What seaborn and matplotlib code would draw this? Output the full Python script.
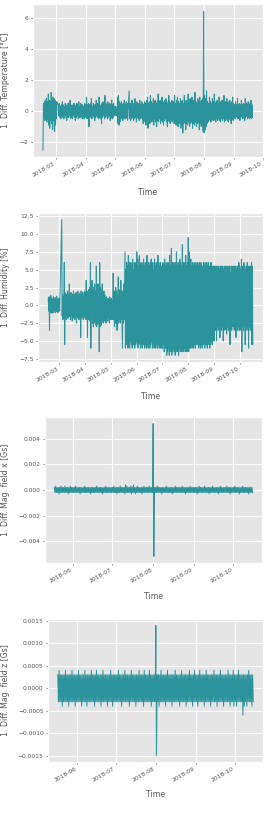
import numpy as np
import pandas as pd
import matplotlib
matplotlib.use('Agg')
import matplotlib.pyplot as plt
import matplotlib.dates as mdates
import seaborn as sns

nan = np.nan

# 1. difference of temperature [°C], one value every 12 h from 2018-02-16
temp_start = '2018-02-16'
temp_diff = [
    # Feb 16-28
    -2.5, 0.5, -0.4, 0.6, -0.6, 0.7, -0.5, 0.8, -0.7, 0.6, -0.5, 1.1, -0.9,
    0.7, -1.1, 0.6, -0.6, 1.2, -0.8, 0.7, -1.2, 0.9, -0.6, 0.8, -1.3, 0.7,
    # Mar
    -0.9, 0.6, -0.5, 0.6, nan, nan,
    0.4, -0.3, 0.5, -0.4, 0.3, -0.5, 0.4, -0.3, 0.6, -0.4, 0.4, -0.5, 0.3, -0.4,
    0.5, -0.3, 0.4, -0.6, 0.3, -0.4, 0.5, -0.4, 0.4, -0.3, 0.7, -0.5, 0.4, -0.4,
    0.3, -0.5, 0.4, -0.3, 0.5, -0.4, 0.4, -0.6, 0.3, -0.4, 0.5, -0.3, 0.4, -0.5,
    0.6, -0.4, 0.3, -0.4, 0.5, -0.3, 0.4, -0.5, 0.4, -0.4, 0.3, -0.5, 0.5, -0.4,
    # Apr
    0.4, -0.3, 0.9, -0.5, 0.4, -0.4, 0.5, -1.0, 0.4, -0.3, 0.5, -0.4, 0.8, -0.5, 0.3,
    -0.4, 0.5, -0.3, 0.4, -0.6, 0.4, -0.4, 0.7, -0.3, 0.5, -0.4, 0.4, -0.5, 0.9, -0.4,
    0.3, -0.5, 0.4, -0.8, 0.5, -0.4, 0.6, -0.3, 0.4, -0.5, 1.0, -0.4, 0.5, -0.3, 0.4,
    -0.5, 0.6, -0.4, 0.4, -0.3, 0.5, -0.6, 0.4, -0.4, 0.7, -0.5, 0.4, -0.4, 0.5, -0.3,
    # May
    0.3, -0.2, 0.3, -0.3, 0.2, -0.3, 0.9, -0.8, 1.0, -0.9, 0.6, -0.7,
    0.5, -0.4, 0.6, -0.5, 0.4, -0.6, 0.5, -0.4, 0.7, -0.5, 0.4, -0.5, 0.6, -0.4, 0.5, -0.6,
    nan, nan, 1.3, -0.5,
    0.5, -0.6, 0.4, -0.5, 0.7, -0.4, 0.5, -0.6, 0.4, -0.5, 0.8, -0.4, 0.5, -0.7, 0.6,
    -0.4, 0.5, -0.5, 0.4, -0.6, 0.7, -0.5, 0.4, -0.4, 0.6, -0.5, 0.5, -0.8, 0.4, -0.5,
    # Jun
    0.6, -0.7, 0.5, -0.9, 0.7, -0.6, 0.9, -1.1, 0.5, -0.6, 0.6, -0.8, 1.0, -0.5, 0.6,
    -0.7, 0.5, -0.6, 0.8, -0.9, 0.6, -0.5, 0.7, -0.7, 0.5, -1.0, 0.6, -0.6, 1.1, -0.7,
    0.6, -0.5, 0.7, -0.8, 0.5, -0.6, 0.9, -0.7, 0.6, -0.9, 0.5, -0.6, 0.7, -0.5, 0.8,
    -0.7, 0.6, -1.0, 0.5, -0.6, 1.0, -0.7, 0.6, -0.8, 0.5, -0.6, 0.7, -0.7, 0.6, -0.5,
    # Jul
    0.6, -0.8, 1.0, -0.6, 0.5, -0.9, 0.7, -0.7, 0.9, -1.0, 0.6, -0.8, 0.5, -0.7, 0.8,
    -1.1, 0.6, -0.9, 0.7, -1.4, 0.5, -0.8, 1.0, -0.7, 0.6, -1.2, 0.7, -0.8, 0.5, -0.9,
    1.1, -0.7, 0.6, -1.0, 0.8, -0.8, 0.5, -0.7, 0.9, -1.1, 0.6, -0.8, 0.7, -0.9, 1.2,
    -0.7, 0.6, -1.0, 0.5, -0.8, 0.8, -0.7, 0.6, -1.2, 0.9, -0.8, 0.6, -1.0, 0.7, -0.9,
    0.8, -1.3,
    # Aug
    6.4, -1.4, 1.0, -1.2, 0.8, -1.0, 1.3, -0.8, 0.6, -0.7, 0.5, -0.6, 0.9, -0.5, 0.6,
    -0.7, 0.5, -0.6, 0.8, -0.5, 0.6, -0.6, 1.1, -0.5, 0.5, -0.7, 0.6, -0.5, 0.7, -0.6,
    0.5, -0.5, 0.9, -0.6, 0.6, -0.7, 0.5, -0.5, 0.7, -0.6, 0.6, -0.5, 1.0, -0.7, 0.5,
    -0.6, 0.6, -0.5, 0.8, -0.6, 0.5, -0.7, 0.6, -0.5, 0.7, -0.6, 0.5, -0.8, 0.6, -0.5,
    0.9, -0.6,
    # Sep 1-20
    0.5, -0.4, 0.4, -0.5, 0.6, -0.4, 0.4, -0.3, 0.8, -0.5, 0.4, -0.4, 0.5, -0.6, 0.4,
    -0.4, 0.7, -0.3, 0.4, -0.5, 0.5, -0.4, 0.4, -0.6, 0.8, -0.4, 0.5, -0.3, 0.4, -0.5,
    0.6, -0.4, 0.4, -0.5, 0.5, -0.4, 0.7, -0.5, 0.4, -0.4,
]

# 1. difference of humidity [%], one value every 12 h from 2018-02-16
hum_start = '2018-02-16'
hum_diff = [
    # Feb 16-28
    1.0, -0.8, 1.2, -3.5, 0.9, -1.0, 1.4, -0.8, 1.0, -1.1, 0.8, -0.9, 1.2,
    -1.0, 0.9, -0.7, 1.1, -1.0, 1.0, -0.8, 1.3, -0.9, 0.8, -1.0, 1.0, -0.7,
    # Mar
    1.0, -0.8, nan, nan, nan, nan, 12.0, -1.5,
    1.5, -2.0, 1.2, -1.6, 6.0, -5.5, 1.8, -1.5, 1.3, -2.0, 1.6, -1.4, 2.0, -1.8, 1.5,
    -1.6, 3.0, -1.5, 1.2, -2.0, 1.8, -1.4, 1.5, -2.2, 1.6, -1.5, 2.0, -1.8, 1.4, -2.0,
    1.6, -1.5, 1.8, -2.5, 1.5, -1.6, 2.0, -1.8, 1.4, -2.0, 1.7, -1.5, 1.5, -4.5, 2.0,
    -1.8, 1.6, -1.5, 1.8, -2.0, 1.5, -1.7, 2.0, -1.6,
    # Apr
    1.8, -2.0, 3.5, -1.8, 2.0, -4.5, 1.6, -2.0, 2.2, -1.8, 2.5, -2.2, 6.0, -6.0, 2.0,
    -1.8, 3.5, -2.5, 2.2, -3.0, 2.5, -2.2, 3.0, -2.5, 2.0, -2.8, 5.5, -3.0, 2.5, -2.6,
    3.0, -2.5, 2.6, -6.5, 6.0, -3.0, 2.5, -2.8, 2.2, -2.5, 3.0, -2.2, 1.5, -2.5, 2.0,
    -2.2, 1.5, -2.0, 1.0, -2.5, 1.2, -2.0, 0.8, -2.2, 1.0, -1.8, 0.8, -2.5, 1.2, -2.0,
    # May
    0.8, -2.0, 1.0, -1.8, 0.6, -2.0,
    4.5, -2.0, 2.0, -3.0, 1.8, -2.5, 2.5, -2.0, 2.0, -3.5, 1.5, -2.0, 4.0, -2.5, 1.8,
    -2.0, 2.2, -2.5, 3.5, -2.0, 2.0, -2.5,
    -6.0, 2.0, -2.5, 3.0, -2.0, 2.5,
    7.5, -6.0, 5.0, -5.5, 6.0, -5.5, 5.5, -6.0, 7.0, -5.5, 6.0, -6.0, 5.5, -5.0,
    6.0, -5.5, 5.5, -6.0, 6.5, -5.5, 5.0, -5.5, 6.0, -6.0, 5.5, -5.5, 6.0, -5.0,
    # Jun
    7.5, -5.5, 6.5, -6.0, 5.5, -5.5, 7.0, -5.0, 6.0, -6.0, 5.5, -5.5, 6.0, -6.0, 5.5,
    -5.5, 6.5, -5.5, 5.5, -6.0, 6.0, -5.5, 5.5, -6.0, 7.0, -5.5, 5.5, -6.0, 6.0, -5.5,
    5.5, -6.0, 6.0, -5.5, 6.5, -5.0, 5.5, -6.0, 6.0, -5.5, 5.0, -6.0, 6.5, -5.5, 5.5,
    -6.0, 6.0, -5.5, 5.5, -6.0, 7.0, -5.5, 6.0, -6.0, 5.5, -5.5, 6.0, -6.0, 5.5, -6.0,
    # Jul
    5.5, -6.0, 6.0, -5.5, 5.5, -6.5, 6.5, -6.0, 5.5, -6.0, 6.0, -7.0, 5.5, -6.5, 6.0,
    -6.0, 5.5, -7.0, 7.0, -6.5, 5.5, -6.0, 8.0, -7.0, 6.0, -6.5, 5.5, -6.0, 6.0, -6.5,
    5.5, -7.0, 6.0, -6.5, 7.5, -6.0, 5.5, -6.5, 6.0, -7.0, 5.5, -6.0, 6.5, -6.5, 6.0,
    -6.0, 5.5, -6.5, 8.5, -6.0, 6.0, -6.5, 5.5, -6.0, 6.0, -6.5, 7.0, -6.0, 5.5, -6.5,
    6.0, -6.0,
    # Aug
    9.5, -6.5, 7.5, -6.0, 5.5, -6.0, 6.5, -5.5, 5.5, -6.0, 6.0, -5.5, 5.5, -6.0, 6.0,
    -5.5, 5.5, -6.0, 6.0, -5.5, 5.5, -5.5, 6.0, -5.5, 5.5, -6.0, 6.0, -5.5, 5.5, -6.0,
    6.0, -5.5, 5.5, -6.0, 5.5, -5.5, 6.0, -5.5, 5.5, -6.0, 6.0, -5.5, 5.5, -5.5, 6.0,
    -6.0, 5.5, -5.5, 6.0, -5.5, 5.5, -6.0, 5.5, -5.5, 6.0, -5.0, 5.5, -5.5, 5.5, -4.5,
    5.5, -5.0,
    # Sep
    5.5, -3.0, 5.5, -3.5, 5.0, -5.0, 5.5, -3.0, 4.5, -3.5, 5.5, -3.0, 5.0, -4.5, 5.5,
    -3.0, 5.5, -3.5, 4.0, -3.0, 5.5, -5.0, 5.0, -3.0, 5.5, -3.5, 5.5, -3.0, 4.5, -4.0,
    5.5, -3.0, 5.0, -3.5, 5.5, -3.0, 5.5, -5.5, 4.5, -3.0, 5.5, -3.5, 5.0, -3.0, 5.5,
    -3.0, 4.0, -3.5, 5.5, -3.0, 5.5, -4.5, 5.0, -3.0, 5.5, -3.5, 5.5, -3.0, 6.0, -3.5,
    # Oct 1-16
    5.5, -3.0, 5.0, -3.5, 6.5, -6.5, 5.5, -3.0, 5.5, -3.5, 6.0, -3.0, 5.5, -5.5, 5.0,
    -3.0, 5.5, -3.5, 6.0, -3.0, 5.5, -6.0, 5.5, -3.0, 5.0, -3.5, 5.5, -3.0, 6.0, -5.5,
    5.5, -5.5,
]

# 1. difference of magnetic field x [1e-4 Gs], one value every 12 h from 2018-05-18
magx_start = '2018-05-18'
magx_diff_e4 = [
    # May 18-31
    2, -2, 3, -2, 2, -2, 2, -3, 2, -2, 3, -2, 2, -2,
    2, -2, 3, -2, 2, -2, 2, -3, 2, -2, 3, -2, 2, -2,
    # Jun
    2, -2, 2, -2, 3, -2, 2, -2, 2, -2, 2, -3, 2, -2, 2,
    -2, 2, -2, 3, -2, 2, -2, 2, -2, 2, -2, 2, -3, 2, -2,
    2, -2, 2, -2, 2, -2, 3, -2, 2, -2, 2, -2, 2, -2, 2,
    -3, 2, -2, 2, -2, 3, -2, 2, -2, 2, -2, 2, -2, 2, -2,
    # Jul
    2, -2, 3, -2, 2, -2, 2, -3, 2, -2, 2, -2, 3, -2, 2,
    -2, 2, -2, 2, -3, 4, -2, 3, -2, 2, -2, 2, -2, 3, -3,
    2, -2, 4, -2, 2, -3, 2, -2, 3, -2, 2, -2, 2, -2, 2,
    -3, 2, -2, 3, -2, 2, -2, 2, -2, 2, -2, 3, -2, 2, -2,
    2, -2,
    # Aug
    52, -52, 2, -2, 2, -2, 3, -2, 2, -2, 2, -2, 2, -3, 2,
    -2, 2, -2, 2, -2, 3, -2, 2, -2, 2, -2, 2, -2, 2, -3,
    2, -2, 2, -2, 3, -2, 2, -2, 2, -2, 2, -2, 2, -2, 3,
    -2, 2, -2, 2, -3, 2, -2, 2, -2, 2, -2, 3, -2, 2, -2,
    2, -2,
    # Sep
    2, -2, 2, -2, 2, -3, 2, -2, 3, -2, 2, -2, 2, -2, 2,
    -2, 3, -2, 2, -2, 2, -2, 2, -3, 2, -2, 2, -2, 3, -2,
    2, -2, 2, -2, 2, -2, 2, -3, 2, -2, 3, -2, 2, -2, 2,
    -2, 2, -2, 2, -2, 3, -2, 2, -2, 2, -3, 2, -2, 2, -2,
    # Oct 1-15
    2, -2, 3, -2, 2, -2, 2, -2, 2, -3, 2, -2, 2, -2, 3,
    -2, 2, -2, 2, -2, 2, -2, 2, -3, 2, -2, 2, -2, 2, -2,
]

# 1. difference of magnetic field z [1e-4 Gs], one value every 12 h from 2018-05-17
magz_start = '2018-05-17'
magz_diff_e4 = [
    # May 17-31
    3, -3, 4, -3, 3, -3, 3, -4, 3, -3, 3, -3, 4, -3, 3,
    -3, 3, -4, 3, -3, 3, -3, 4, -3, 3, -3, 3, -4, 3, -3,
    # Jun
    3, -3, 4, -3, 3, -3, 3, -4, 3, -3, 3, -3, 4, -3, 3,
    -4, 3, -3, 3, -3, 3, -3, 4, -3, 3, -3, 3, -4, 3, -3,
    4, -3, 3, -3, 3, -3, 3, -4, 3, -3, 4, -3, 3, -3, 3,
    -3, 3, -4, 3, -3, 3, -3, 4, -3, 3, -4, 3, -3, 3, -3,
    # Jul
    3, -3, 3, -3, 4, -3, 3, -3, 3, -4, 3, -3, 3, -3, 4,
    -3, 3, -3, 3, -3, 3, -4, 3, -3, 4, -3, 3, -3, 3, -3,
    3, -4, 3, -3, 3, -3, 4, -3, 3, -3, 3, -3, 3, -4, 4,
    -3, 3, -3, 3, -3, 3, -3, 4, -3, 3, -4, 3, -3, 3, -3,
    3, -3,
    # Aug
    14, -15, 3, -3, 3, -4, 3, -3, 4, -3, 3, -3, 3, -3, 3,
    -4, 3, -3, 4, -3, 3, -3, 3, -3, 3, -4, 3, -3, 3, -3,
    4, -3, 3, -3, 3, -3, 3, -4, 3, -3, 4, -3, 3, -3, 3,
    -3, 3, -4, 3, -3, 3, -3, 4, -3, 3, -3, 3, -4, 3, -3,
    4, -3,
    # Sep
    3, -3, 3, -4, 3, -3, 4, -3, 3, -3, 3, -3, 3, -4, 3,
    -3, 4, -3, 3, -3, 3, -3, 3, -4, 3, -3, 3, -3, 4, -3,
    3, -3, 3, -4, 3, -3, 3, -3, 4, -3, 3, -3, 3, -4, 3,
    -3, 3, -3, 3, -3, 4, -3, 3, -4, 3, -3, 3, -3, 4, -4,
    # Oct 1-15
    3, -3, 3, -4, 3, -3, 4, -3, 3, -3, 3, -3, 3, -6, 3,
    -4, 3, -3, 3, -4, 3, -3, 4, -3, 3, -3, 3, -4, 3, -3,
]

line_color = '#2b939c'
text_color = '#555555'

plt.style.use('ggplot')

fig = plt.figure(figsize=(2.66, 8.13), dpi=100)

panels = [
    (temp_start, np.array(temp_diff), '1. Diff. Temperature [°C]',
     [0.1222, 0.8069, 0.8665, 0.1876], 188),
    (hum_start, np.array(hum_diff), '1. Diff. Humidity [%]',
     [0.1429, 0.5547, 0.8459, 0.1833], 392),
    (magx_start, np.array(magx_diff_e4) * 1e-4, '1. Diff. Mag. field x [Gs]',
     [0.1673, 0.3075, 0.8195, 0.1796], 592),
    (magz_start, np.array(magz_diff_e4) * 1e-4, '1. Diff. Mag. field z [Gs]',
     [0.1805, 0.0627, 0.8083, 0.1759], 790),
]

for start, values, ylabel, rect, xlabel_top in panels:
    ax = fig.add_axes(rect)
    df = pd.DataFrame({'Time': pd.date_range(start, periods=len(values), freq='12h'),
                       'value': values})
    sns.lineplot(data=df, x='Time', y='value', ax=ax, color=line_color,
                 linewidth=0.75, estimator=None)
    ax.xaxis.set_major_locator(mdates.MonthLocator())
    ax.xaxis.set_major_formatter(mdates.DateFormatter('%Y-%m'))
    ax.tick_params(labelsize=4.3, length=1.6, width=0.5, pad=1.5, colors=text_color)
    plt.setp(ax.get_xticklabels(), rotation=30, ha='right')
    ax.set_ylabel(ylabel, fontsize=5.6, color=text_color)
    ax.set_xlabel('Time', fontsize=5.6, color=text_color)
    ax.yaxis.set_label_coords(10 / 266, rect[1] + rect[3] / 2, transform=fig.transFigure)
    ax.xaxis.set_label_coords(rect[0] + rect[2] / 2, 1 - xlabel_top / 813,
                              transform=fig.transFigure)

fig.savefig('out.png', dpi=100)
